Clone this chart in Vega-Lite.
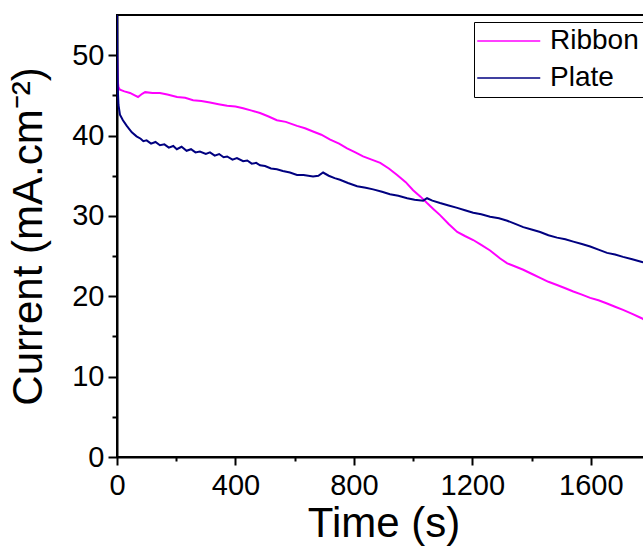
{
  "$schema": "https://vega.github.io/schema/vega-lite/v6.json",
  "autosize": "none",
  "padding": {"left": 117, "top": 15, "right": 0, "bottom": 89},
  "width": 533,
  "height": 442,
  "background": "white",
  "config": {
    "view": {"stroke": "black", "strokeWidth": 2},
    "font": "Liberation Sans",
    "axis": {"grid": false, "domainColor": "black", "domainWidth": 2, "tickColor": "black", "tickWidth": 2, "labelColor": "black", "titleColor": "black", "labelFont": "Liberation Sans", "titleFont": "Liberation Sans", "titleFontWeight": "normal", "labelFontSize": 29, "titleFontSize": 42, "labelOverlap": false, "labelFlush": false, "labelBound": false}
  },
  "data": {"values": [
    {"s": "Ribbon", "t": 0, "v": 50.5}, {"s": "Ribbon", "t": 2, "v": 47}, {"s": "Ribbon", "t": 5, "v": 46}, {"s": "Ribbon", "t": 10, "v": 45.7},
    {"s": "Ribbon", "t": 25, "v": 45.5}, {"s": "Ribbon", "t": 44, "v": 45.3}, {"s": "Ribbon", "t": 60, "v": 45.0}, {"s": "Ribbon", "t": 71, "v": 44.8},
    {"s": "Ribbon", "t": 85, "v": 45.2}, {"s": "Ribbon", "t": 95, "v": 45.4}, {"s": "Ribbon", "t": 120, "v": 45.3}, {"s": "Ribbon", "t": 145, "v": 45.3},
    {"s": "Ribbon", "t": 170, "v": 45.1}, {"s": "Ribbon", "t": 203, "v": 44.8}, {"s": "Ribbon", "t": 230, "v": 44.7}, {"s": "Ribbon", "t": 257, "v": 44.4},
    {"s": "Ribbon", "t": 285, "v": 44.3}, {"s": "Ribbon", "t": 314, "v": 44.1}, {"s": "Ribbon", "t": 343, "v": 43.9}, {"s": "Ribbon", "t": 372, "v": 43.7},
    {"s": "Ribbon", "t": 400, "v": 43.6}, {"s": "Ribbon", "t": 426, "v": 43.4}, {"s": "Ribbon", "t": 455, "v": 43.1}, {"s": "Ribbon", "t": 483, "v": 42.8},
    {"s": "Ribbon", "t": 510, "v": 42.4}, {"s": "Ribbon", "t": 540, "v": 41.9}, {"s": "Ribbon", "t": 570, "v": 41.7}, {"s": "Ribbon", "t": 608, "v": 41.2},
    {"s": "Ribbon", "t": 635, "v": 40.9}, {"s": "Ribbon", "t": 662, "v": 40.5}, {"s": "Ribbon", "t": 690, "v": 40.1}, {"s": "Ribbon", "t": 720, "v": 39.5},
    {"s": "Ribbon", "t": 750, "v": 39.0}, {"s": "Ribbon", "t": 777, "v": 38.4}, {"s": "Ribbon", "t": 805, "v": 37.9}, {"s": "Ribbon", "t": 831, "v": 37.4},
    {"s": "Ribbon", "t": 860, "v": 37.0}, {"s": "Ribbon", "t": 889, "v": 36.6}, {"s": "Ribbon", "t": 918, "v": 35.9}, {"s": "Ribbon", "t": 946, "v": 35.1},
    {"s": "Ribbon", "t": 975, "v": 34.2}, {"s": "Ribbon", "t": 1000, "v": 33.2}, {"s": "Ribbon", "t": 1025, "v": 32.4}, {"s": "Ribbon", "t": 1047, "v": 31.6},
    {"s": "Ribbon", "t": 1070, "v": 30.8}, {"s": "Ribbon", "t": 1091, "v": 30.1}, {"s": "Ribbon", "t": 1120, "v": 29.0}, {"s": "Ribbon", "t": 1149, "v": 28.0},
    {"s": "Ribbon", "t": 1175, "v": 27.5}, {"s": "Ribbon", "t": 1203, "v": 27.0}, {"s": "Ribbon", "t": 1230, "v": 26.4}, {"s": "Ribbon", "t": 1260, "v": 25.7},
    {"s": "Ribbon", "t": 1294, "v": 24.7}, {"s": "Ribbon", "t": 1318, "v": 24.1}, {"s": "Ribbon", "t": 1345, "v": 23.7}, {"s": "Ribbon", "t": 1372, "v": 23.3},
    {"s": "Ribbon", "t": 1400, "v": 22.8}, {"s": "Ribbon", "t": 1429, "v": 22.3}, {"s": "Ribbon", "t": 1457, "v": 21.8}, {"s": "Ribbon", "t": 1486, "v": 21.4},
    {"s": "Ribbon", "t": 1514, "v": 21.0}, {"s": "Ribbon", "t": 1541, "v": 20.6}, {"s": "Ribbon", "t": 1570, "v": 20.2}, {"s": "Ribbon", "t": 1598, "v": 19.8},
    {"s": "Ribbon", "t": 1626, "v": 19.5}, {"s": "Ribbon", "t": 1655, "v": 19.1}, {"s": "Ribbon", "t": 1682, "v": 18.7}, {"s": "Ribbon", "t": 1709, "v": 18.3},
    {"s": "Ribbon", "t": 1740, "v": 17.8}, {"s": "Ribbon", "t": 1770, "v": 17.3}, {"s": "Ribbon", "t": 1790, "v": 16.9},
    {"s": "Plate", "t": 0, "v": 55}, {"s": "Plate", "t": 1, "v": 50}, {"s": "Plate", "t": 3, "v": 45.5}, {"s": "Plate", "t": 5, "v": 43.8},
    {"s": "Plate", "t": 10, "v": 42.6}, {"s": "Plate", "t": 20, "v": 41.9}, {"s": "Plate", "t": 33, "v": 41.2}, {"s": "Plate", "t": 50, "v": 40.4},
    {"s": "Plate", "t": 66, "v": 39.9}, {"s": "Plate", "t": 80, "v": 39.6}, {"s": "Plate", "t": 89, "v": 39.3}, {"s": "Plate", "t": 100, "v": 39.4},
    {"s": "Plate", "t": 115, "v": 39.0}, {"s": "Plate", "t": 130, "v": 39.2}, {"s": "Plate", "t": 145, "v": 38.8}, {"s": "Plate", "t": 160, "v": 38.9},
    {"s": "Plate", "t": 175, "v": 38.5}, {"s": "Plate", "t": 190, "v": 38.7}, {"s": "Plate", "t": 202, "v": 38.3}, {"s": "Plate", "t": 218, "v": 38.6},
    {"s": "Plate", "t": 235, "v": 38.1}, {"s": "Plate", "t": 250, "v": 38.3}, {"s": "Plate", "t": 265, "v": 37.9}, {"s": "Plate", "t": 280, "v": 38.0},
    {"s": "Plate", "t": 300, "v": 37.7}, {"s": "Plate", "t": 314, "v": 37.9}, {"s": "Plate", "t": 330, "v": 37.5}, {"s": "Plate", "t": 345, "v": 37.7},
    {"s": "Plate", "t": 360, "v": 37.3}, {"s": "Plate", "t": 372, "v": 37.4}, {"s": "Plate", "t": 390, "v": 37.0}, {"s": "Plate", "t": 405, "v": 37.2},
    {"s": "Plate", "t": 426, "v": 36.8}, {"s": "Plate", "t": 440, "v": 36.9}, {"s": "Plate", "t": 455, "v": 36.5}, {"s": "Plate", "t": 470, "v": 36.6},
    {"s": "Plate", "t": 483, "v": 36.3}, {"s": "Plate", "t": 500, "v": 36.2}, {"s": "Plate", "t": 520, "v": 35.9}, {"s": "Plate", "t": 540, "v": 35.8},
    {"s": "Plate", "t": 560, "v": 35.6}, {"s": "Plate", "t": 584, "v": 35.4}, {"s": "Plate", "t": 608, "v": 35.1}, {"s": "Plate", "t": 630, "v": 35.1},
    {"s": "Plate", "t": 662, "v": 34.9}, {"s": "Plate", "t": 680, "v": 35.0}, {"s": "Plate", "t": 696, "v": 35.4}, {"s": "Plate", "t": 715, "v": 35.0},
    {"s": "Plate", "t": 735, "v": 34.7}, {"s": "Plate", "t": 753, "v": 34.5}, {"s": "Plate", "t": 780, "v": 34.1}, {"s": "Plate", "t": 811, "v": 33.7},
    {"s": "Plate", "t": 840, "v": 33.5}, {"s": "Plate", "t": 865, "v": 33.3}, {"s": "Plate", "t": 895, "v": 33.0}, {"s": "Plate", "t": 922, "v": 32.7},
    {"s": "Plate", "t": 950, "v": 32.5}, {"s": "Plate", "t": 980, "v": 32.2}, {"s": "Plate", "t": 1005, "v": 32.0}, {"s": "Plate", "t": 1034, "v": 31.9},
    {"s": "Plate", "t": 1047, "v": 32.2}, {"s": "Plate", "t": 1065, "v": 31.9}, {"s": "Plate", "t": 1091, "v": 31.6}, {"s": "Plate", "t": 1120, "v": 31.3},
    {"s": "Plate", "t": 1149, "v": 31.0}, {"s": "Plate", "t": 1175, "v": 30.7}, {"s": "Plate", "t": 1203, "v": 30.4}, {"s": "Plate", "t": 1230, "v": 30.2},
    {"s": "Plate", "t": 1260, "v": 29.9}, {"s": "Plate", "t": 1290, "v": 29.7}, {"s": "Plate", "t": 1318, "v": 29.4}, {"s": "Plate", "t": 1345, "v": 29.0},
    {"s": "Plate", "t": 1372, "v": 28.6}, {"s": "Plate", "t": 1400, "v": 28.3}, {"s": "Plate", "t": 1429, "v": 28.0}, {"s": "Plate", "t": 1457, "v": 27.6},
    {"s": "Plate", "t": 1486, "v": 27.3}, {"s": "Plate", "t": 1514, "v": 27.1}, {"s": "Plate", "t": 1541, "v": 26.8}, {"s": "Plate", "t": 1570, "v": 26.5},
    {"s": "Plate", "t": 1598, "v": 26.2}, {"s": "Plate", "t": 1626, "v": 25.8}, {"s": "Plate", "t": 1655, "v": 25.4}, {"s": "Plate", "t": 1682, "v": 25.2},
    {"s": "Plate", "t": 1709, "v": 24.9}, {"s": "Plate", "t": 1740, "v": 24.6}, {"s": "Plate", "t": 1770, "v": 24.3}, {"s": "Plate", "t": 1790, "v": 24.1}
  ]},
  "mark": {"type": "line", "strokeWidth": 2, "clip": true},
  "encoding": {
    "x": {"field": "t", "type": "quantitative", "scale": {"domain": [0, 1800], "nice": false, "zero": false},
      "axis": {"title": "Time (s)", "values": [0, 200, 400, 600, 800, 1000, 1200, 1400, 1600], "format": "d",
        "labelExpr": "datum.value % 400 === 0 ? datum.label : ''",
        "tickSize": {"condition": {"test": "datum.value % 400 === 0", "value": 8}, "value": 4},
        "labelPadding": 6, "titlePadding": 3}},
    "y": {"field": "v", "type": "quantitative", "scale": {"domain": [0, 55], "nice": false},
      "axis": {"title": "Current (mA.cm⁻²)", "values": [0, 5, 10, 15, 20, 25, 30, 35, 40, 45, 50], "format": "d",
        "labelExpr": "datum.value % 10 === 0 ? datum.label : ''",
        "tickSize": {"condition": {"test": "datum.value % 10 === 0", "value": 9}, "value": 5},
        "labelPadding": 4, "titlePadding": 21}},
    "color": {"field": "s", "type": "nominal", "sort": ["Ribbon", "Plate"],
      "scale": {"domain": ["Ribbon", "Plate"], "range": ["#FF00FF", "#000080"]},
      "legend": {"title": null, "orient": "none", "legendX": 357, "legendY": 7, "symbolType": "M-1.5,0H4.5", "symbolSize": 441, "symbolStrokeWidth": 1.5,
        "labelFontSize": 28, "labelFont": "Liberation Sans", "labelColor": "black", "labelOffset": 43, "rowPadding": 9,
        "labelExpr": "datum.label + ' '",
        "strokeColor": "black", "padding": 5, "fillColor": "white", "cornerRadius": 0}}
  }
}
